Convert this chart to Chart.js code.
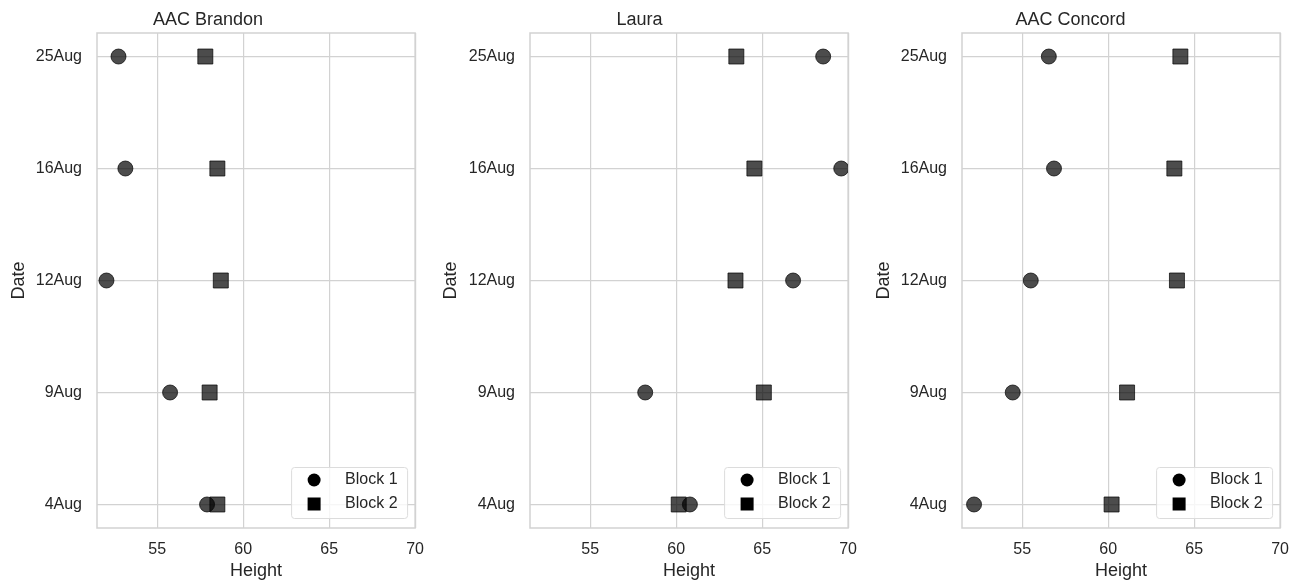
<!DOCTYPE html>
<html>
<head>
<meta charset="utf-8">
<script src="https://cdn.jsdelivr.net/npm/chart.js@4.4.1/dist/chart.umd.min.js"></script>
<style>
  html, body { margin: 0; padding: 0; background: #fff; }
  #wrap { position: relative; width: 1301px; height: 582px; }
  .panel { position: absolute; top: 0; height: 582px; }
</style>
</head>
<body>
<div id="wrap">
  <div class="panel" style="left:0;width:436px"><canvas id="c0"></canvas></div>
  <div class="panel" style="left:430px;width:439px"><canvas id="c1"></canvas></div>
  <div class="panel" style="left:860px;width:441px"><canvas id="c2"></canvas></div>
</div>
<script>
// dates, bottom to top
const dates = ["4Aug", "9Aug", "12Aug", "16Aug", "25Aug"];
const heightTicks = [55, 60, 65, 70];
const legendLabels = ["Block 1", "Block 2"];
const panelTitles = ["AAC Brandon", "Laura", "AAC Concord"];

const brandonBlock1 = [57.9, 55.75, 52.05, 53.15, 52.75];
const brandonBlock2 = [58.5, 58.05, 58.7, 58.5, 57.8];
const lauraBlock1 = [60.8, 58.2, 66.8, 69.6, 68.55];
const lauraBlock2 = [60.15, 65.1, 63.45, 64.55, 63.5];
const concordBlock1 = [52.2, 54.45, 55.5, 56.85, 56.55];
const concordBlock2 = [60.2, 61.1, 64.0, 63.85, 64.2];

const textColor = "#262626";
const gridColor = "#d2d2d2";
const markColor = "rgba(0,0,0,0.7)";
const FONT = "'Liberation Sans', Arial, sans-serif";

function toPoints(values) {
  return values.map((v, i) => ({ x: v, y: i }));
}

const boxPlugin = {
  id: "box",
  beforeDatasetsDraw(chart) {
    const a = chart.chartArea;
    const ctx = chart.ctx;
    ctx.save();
    ctx.strokeStyle = gridColor;
    ctx.lineWidth = 1.5;
    ctx.strokeRect(a.left, a.top, a.right - a.left, a.bottom - a.top);
    ctx.restore();
  }
};

const legendPlugin = {
  id: "cornerLegend",
  afterDatasetsDraw(chart) {
    const a = chart.chartArea;
    const ctx = chart.ctx;
    const w = 116, h = 51;
    const x = a.right - 8 - w, y = a.bottom - 10 - h;
    ctx.save();
    ctx.fillStyle = "rgba(255,255,255,0.8)";
    ctx.strokeStyle = "#dcdcdc";
    ctx.lineWidth = 1;
    ctx.beginPath();
    ctx.roundRect(x + 0.5, y + 0.5, w, h, 3);
    ctx.fill();
    ctx.stroke();
    ctx.fillStyle = "#000";
    ctx.beginPath();
    ctx.arc(x + 23, y + 13, 6.5, 0, Math.PI * 2);
    ctx.fill();
    ctx.fillRect(x + 23 - 6.5, y + 37 - 6.5, 13, 13);
    ctx.fillStyle = textColor;
    ctx.font = "16px " + FONT;
    ctx.textBaseline = "middle";
    ctx.fillText(legendLabels[0], x + 54, y + 13);
    ctx.fillText(legendLabels[1], x + 54, y + 37);
    ctx.restore();
  }
};

function makePanel(id, title, block1, block2, yAxisWidth, dateTitlePad) {
  return new Chart(document.getElementById(id), {
    type: "scatter",
    data: {
      datasets: [
        {
          label: legendLabels[1],
          data: toPoints(block2),
          pointStyle: "rect",
          pointRadius: 10.6,
          pointHoverRadius: 10.6,
          backgroundColor: markColor,
          borderColor: markColor,
          borderWidth: 1
        },
        {
          label: legendLabels[0],
          data: toPoints(block1),
          pointStyle: "circle",
          pointRadius: 7.5,
          pointHoverRadius: 7.5,
          backgroundColor: markColor,
          borderColor: markColor,
          borderWidth: 1
        }
      ]
    },
    options: {
      responsive: true,
      maintainAspectRatio: false,
      animation: false,
      events: [],
      layout: { padding: { left: 0, right: 20, top: 0, bottom: 0 } },
      plugins: {
        legend: { display: false },
        tooltip: { enabled: false },
        title: {
          display: true,
          text: title,
          color: textColor,
          font: { family: FONT, size: 18, weight: "normal" },
          padding: { top: 9, bottom: 2.4 }
        }
      },
      scales: {
        x: {
          type: "linear",
          min: 51.5,
          max: 70,
          afterBuildTicks: s => { s.ticks = heightTicks.map(v => ({ value: v })); },
          afterFit: s => { s.height = 54; },
          grid: { color: gridColor, lineWidth: 1.2, drawTicks: false },
          border: { display: false },
          ticks: { color: textColor, font: { family: FONT, size: 16 }, padding: 12, maxRotation: 0 },
          title: {
            display: true,
            text: "Height",
            color: textColor,
            font: { family: FONT, size: 18 },
            padding: { top: 0, bottom: 0.5 }
          }
        },
        y: {
          type: "linear",
          min: -0.21,
          max: 4.21,
          afterBuildTicks: s => { s.ticks = dates.map((d, i) => ({ value: i })); },
          afterFit: s => { s.width = yAxisWidth; },
          grid: { color: gridColor, lineWidth: 1.2, drawTicks: false },
          border: { display: false },
          ticks: {
            color: textColor,
            font: { family: FONT, size: 16 },
            padding: 15,
            callback: v => dates[v]
          },
          title: {
            display: true,
            text: "Date",
            color: textColor,
            font: { family: FONT, size: 18 },
            padding: { top: dateTitlePad, bottom: 0 }
          }
        }
      }
    },
    plugins: [boxPlugin, legendPlugin]
  });
}

makePanel("c0", panelTitles[0], brandonBlock1, brandonBlock2, 97, 8);
makePanel("c1", panelTitles[1], lauraBlock1, lauraBlock2, 100, 10);
makePanel("c2", panelTitles[2], concordBlock1, concordBlock2, 102, 13);
</script>
</body>
</html>
